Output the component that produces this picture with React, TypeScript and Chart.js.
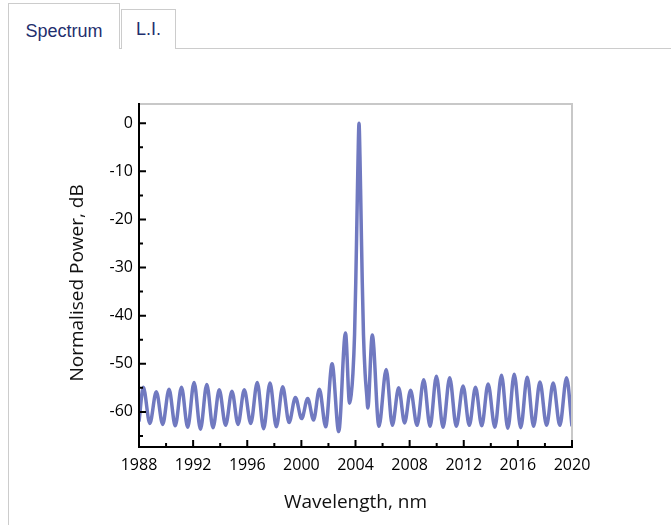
import React, { useEffect, useRef } from "react";
import { Chart, registerables } from "chart.js";

Chart.register(...registerables);

// Wavelength (nm) and normalised power (dB)
const WAVELENGTH_NM = [
  1988.0, 1988.32, 1988.8, 1989.28, 1989.75, 1990.22, 1990.68, 1991.14, 1991.6, 1992.07,
  1992.54, 1993.01, 1993.47, 1993.93, 1994.4, 1994.87, 1995.32, 1995.78, 1996.26, 1996.74,
  1997.21, 1997.68, 1998.15, 1998.62, 1999.09, 1999.56, 2000.02, 2000.47, 2000.9, 2001.33,
  2001.8, 2002.27, 2002.76, 2003.26, 2003.56, 2003.68, 2003.81, 2003.93, 2004.02, 2004.08,
  2004.13, 2004.19, 2004.26, 2004.33, 2004.39, 2004.44, 2004.5, 2004.59, 2004.71, 2004.83,
  2004.91, 2005.24, 2005.73, 2006.27, 2006.72, 2007.19, 2007.63, 2008.07, 2008.55, 2009.04,
  2009.51, 2009.98, 2010.47, 2010.96, 2011.45, 2011.95, 2012.41, 2012.87, 2013.33, 2013.8,
  2014.3, 2014.79, 2015.26, 2015.73, 2016.21, 2016.69, 2017.16, 2017.63, 2018.12, 2018.61,
  2019.1, 2019.6, 2020.0,
];

const POWER_DB = [
  -62.0, -54.9, -62.4, -55.8, -62.6, -55.3, -62.9, -54.9, -63.2, -53.9,
  -63.6, -54.3, -63.3, -55.4, -62.8, -55.7, -62.6, -55.4, -62.4, -53.9,
  -63.5, -54.0, -63.1, -54.8, -62.2, -57.0, -61.4, -57.2, -61.7, -55.3,
  -63.1, -50.0, -64.1, -43.6, -58.2, -56.5, -52.0, -44.0, -33.0, -24.0,
  -16.0, -7.0, 0.0, -7.0, -16.0, -24.0, -33.0, -44.0, -52.0, -56.5,
  -59.2, -44.0, -63.0, -51.2, -62.8, -55.0, -62.3, -55.5, -62.8, -53.3,
  -63.0, -52.6, -63.2, -52.9, -63.0, -54.6, -62.8, -54.9, -62.9, -54.2,
  -63.2, -52.4, -63.4, -52.2, -63.3, -52.8, -63.0, -53.8, -62.8, -54.0,
  -62.8, -52.9, -63.0,
];

const X_TICKS = [1988, 1992, 1996, 2000, 2004, 2008, 2012, 2016, 2020];
const X_MINOR_TICKS = [1990, 1994, 1998, 2002, 2006, 2010, 2014, 2018];
const Y_TICKS = [0, -10, -20, -30, -40, -50, -60];
const Y_MINOR_TICKS = [-5, -15, -25, -35, -45, -55, -65];

const X_MIN = 1988;
const X_MAX = 2020;
const Y_MIN = -67.3;
const Y_MAX = 4;

const X_TITLE = "Wavelength, nm";
const Y_TITLE = "Normalised Power, dB";
const TABS = ["Spectrum", "L.I."];

const LINE_COLOR = "rgb(112,121,192)";

const framePlugin = {
  id: "frameAndTicks",
  afterDatasetsDraw(chart: any) {
    const { ctx, chartArea, scales } = chart;
    const { left, right, top, bottom } = chartArea;
    const x = scales.x;
    const y = scales.y;
    ctx.save();
    ctx.lineCap = "butt";
    ctx.lineWidth = 2;
    ctx.strokeStyle = "#c8c8c8";
    ctx.beginPath();
    ctx.moveTo(left, top);
    ctx.lineTo(right, top);
    ctx.lineTo(right, bottom);
    ctx.stroke();

    ctx.strokeStyle = "#000";
    ctx.beginPath();
    ctx.moveTo(left, top - 1);
    ctx.lineTo(left, bottom);
    ctx.lineTo(right + 1, bottom);
    ctx.stroke();

    ctx.beginPath();
    X_TICKS.forEach((v) => {
      const px = x.getPixelForValue(v);
      ctx.moveTo(px, bottom);
      ctx.lineTo(px, bottom - 7);
    });
    X_MINOR_TICKS.forEach((v) => {
      const px = x.getPixelForValue(v);
      ctx.moveTo(px, bottom);
      ctx.lineTo(px, bottom - 4);
    });
    Y_TICKS.forEach((v) => {
      const py = y.getPixelForValue(v);
      ctx.moveTo(left, py);
      ctx.lineTo(left + 7, py);
    });
    Y_MINOR_TICKS.forEach((v) => {
      const py = y.getPixelForValue(v);
      ctx.moveTo(left, py);
      ctx.lineTo(left + 4, py);
    });
    ctx.stroke();
    ctx.restore();
  },
};

export default function App() {
  const canvasRef = useRef<HTMLCanvasElement | null>(null);

  useEffect(() => {
    const canvas = canvasRef.current;
    if (!canvas) return;
    const points = WAVELENGTH_NM.map((w, i) => ({ x: w, y: POWER_DB[i] }));
    const chart = new Chart(canvas, {
      type: "line",
      data: {
        datasets: [
          {
            data: points,
            borderColor: LINE_COLOR,
            borderWidth: 3.5,
            pointRadius: 0,
            fill: false,
            cubicInterpolationMode: "monotone",
          },
        ],
      },
      options: {
        animation: false,
        responsive: false,
        maintainAspectRatio: false,
        devicePixelRatio: 1,
        layout: { padding: { left: 0, right: 99, top: 104, bottom: 0 } },
        plugins: {
          legend: { display: false },
          tooltip: { enabled: false },
        },
        scales: {
          x: {
            type: "linear",
            min: X_MIN,
            max: X_MAX,
            afterBuildTicks: (scale: any) => {
              scale.ticks = X_TICKS.map((v) => ({ value: v }));
            },
            afterFit: (scale: any) => {
              scale.height = 78;
            },
            grid: { display: false, drawTicks: false },
            border: { display: false },
            ticks: {
              autoSkip: false,
              maxRotation: 0,
              padding: 9,
              color: "#000",
              font: { family: "Open Sans", size: 16 },
              callback: (v: any) => String(v),
            },
            title: {
              display: true,
              text: X_TITLE,
              color: "#111",
              font: { family: "Open Sans", size: 19 },
              padding: { top: 0, bottom: 11 },
            },
          },
          y: {
            type: "linear",
            min: Y_MIN,
            max: Y_MAX,
            afterBuildTicks: (scale: any) => {
              scale.ticks = Y_TICKS.map((v) => ({ value: v }));
            },
            afterFit: (scale: any) => {
              scale.width = 139;
            },
            grid: { display: false, drawTicks: false },
            border: { display: false },
            ticks: {
              padding: 6,
              color: "#000",
              font: { family: "Open Sans", size: 16 },
              callback: (v: any) => String(v),
            },
            title: {
              display: true,
              text: Y_TITLE + "   ",
              color: "#111",
              font: { family: "Open Sans", size: 19 },
              padding: { top: 66, bottom: 0 },
            },
          },
        },
      },
      plugins: [framePlugin],
    });
    return () => chart.destroy();
  }, []);

  const tabFont = { fontFamily: "'Liberation Sans', Arial, sans-serif", fontSize: 18, color: "#1f2f6e" };

  return (
    <div
      style={{
        position: "fixed",
        left: 0,
        top: 0,
        width: 671,
        height: 525,
        overflow: "hidden",
        background: "#fff",
      }}
    >
      <div
        style={{
          position: "absolute",
          left: 8,
          top: 48,
          width: 700,
          height: 520,
          borderTop: "1px solid #cccccc",
          borderLeft: "1px solid #cccccc",
          boxSizing: "border-box",
        }}
      />
      <div
        style={{
          position: "absolute",
          left: 8,
          top: 3,
          width: 112,
          height: 46,
          border: "1px solid #cccccc",
          borderBottom: "none",
          boxSizing: "border-box",
          background: "#fff",
        }}
      />
      <div
        style={{
          position: "absolute",
          left: 121,
          top: 9,
          width: 55,
          height: 40,
          border: "1px solid #cccccc",
          borderBottom: "none",
          boxSizing: "border-box",
          background: "#fff",
        }}
      />
      <span
        style={{
          ...tabFont,
          position: "absolute",
          left: 8,
          width: 112,
          top: 22,
          lineHeight: "18px",
          textAlign: "center",
          whiteSpace: "nowrap",
        }}
      >
        {TABS[0]}
      </span>
      <span
        style={{
          ...tabFont,
          position: "absolute",
          left: 121,
          width: 55,
          top: 20,
          lineHeight: "18px",
          textAlign: "center",
          whiteSpace: "nowrap",
        }}
      >
        {TABS[1]}
      </span>
      <canvas
        ref={canvasRef}
        width={671}
        height={525}
        style={{ position: "absolute", left: 0, top: 0, width: 671, height: 525 }}
      />
    </div>
  );
}
